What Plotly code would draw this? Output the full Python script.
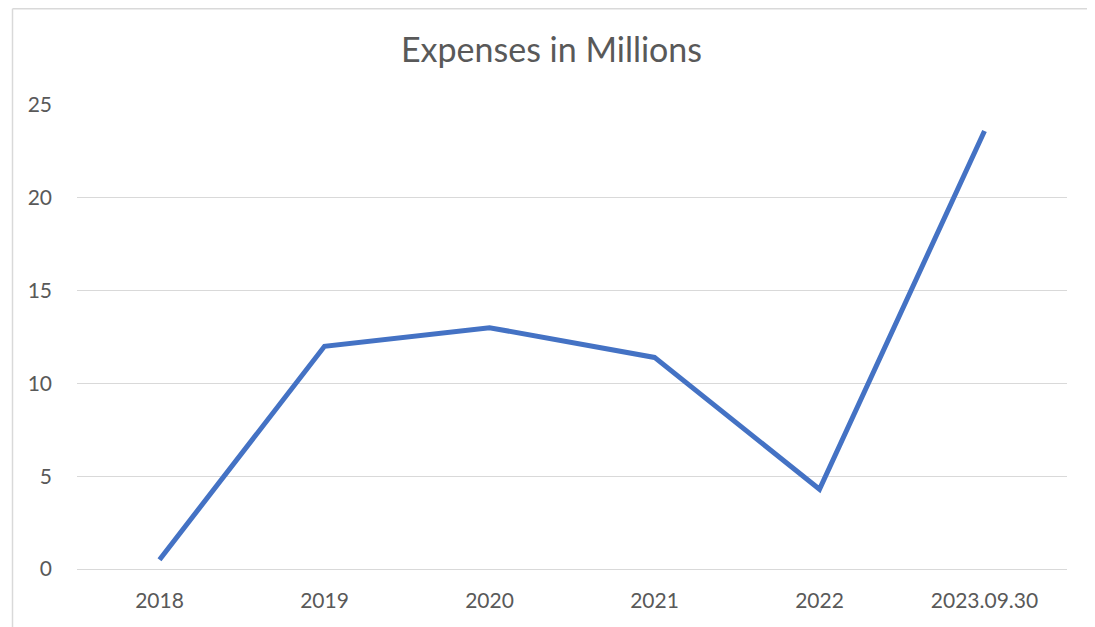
import plotly.graph_objects as go

categories = ["2018", "2019", "2020", "2021", "2022", "2023.09.30"]
expenses = [0.5, 12.0, 13.0, 11.4, 4.3, 23.6]
y_ticks = [0, 5, 10, 15, 20, 25]

# page body has an 8px margin; figure pixel coords are screen coords minus 8
W, H = 1087, 619
L, R, T, B = 69, 28, 97, 58
pw, ph = W - L - R, H - T - B

def px_x(px):
    return (px - L) / pw

def px_y(py):
    return (H - B - py) / ph

fig = go.Figure()
fig.add_trace(go.Scatter(
    x=categories, y=expenses, mode="lines",
    line=dict(color="#4472C4", width=5),
    hoverinfo="x+y",
))

grid = "#d9d9d9"
fig.update_layout(
    width=W, height=H,
    margin=dict(l=L, r=R, t=T, b=B),
    paper_bgcolor="white", plot_bgcolor="white",
    showlegend=False,
    font=dict(family="Lato, Open Sans, sans-serif", color="#595959", size=21),
    title=dict(text="Expenses in Millions", x=0.5, xanchor="center",
               y=1 - 42 / H, yanchor="middle",
               font=dict(size=34, color="#595959")),
    xaxis=dict(type="category", range=[-0.5, 5.5], showgrid=False,
               showline=True, linecolor=grid, linewidth=1.3,
               ticks="", ticklabelstandoff=13, zeroline=False),
    yaxis=dict(range=[0, 25], tickvals=y_ticks, showgrid=True, gridcolor=grid,
               gridwidth=1.3, zeroline=False, showline=False, ticks="",
               ticklabelstandoff=24),
    shapes=[
        dict(type="line", xref="paper", yref="paper",
             x0=px_x(4.5), x1=px_x(4.5), y0=px_y(H + 5), y1=px_y(0.8),
             line=dict(color=grid, width=1.5)),
        dict(type="line", xref="paper", yref="paper",
             x0=px_x(4.5), x1=px_x(W + 5), y0=px_y(0.8), y1=px_y(0.8),
             line=dict(color=grid, width=1.5)),
    ],
)

fig.write_html("out.html")
